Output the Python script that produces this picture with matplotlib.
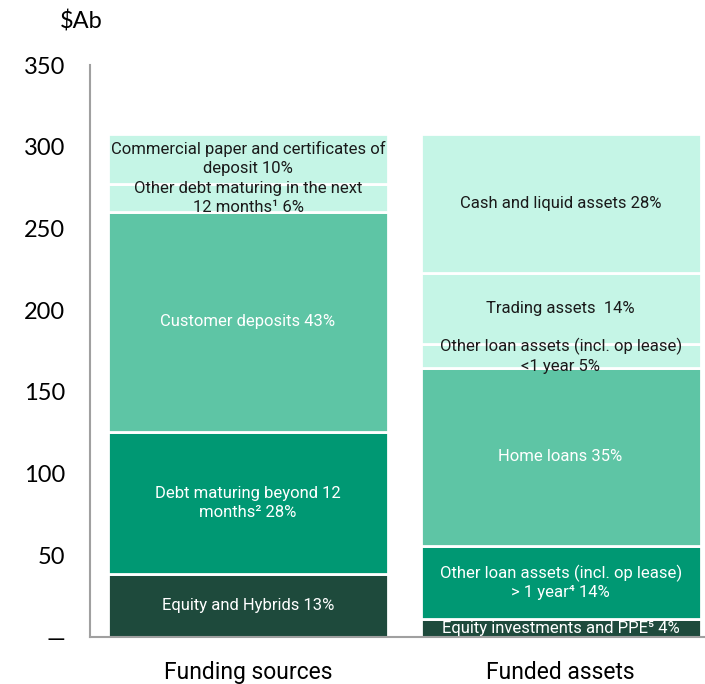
import matplotlib
matplotlib.use("Agg")
import matplotlib.pyplot as plt
import numpy as np

plt.rcParams['font.family'] = ['Roboto', 'DejaVu Sans']

categories = ["Funding sources", "Funded assets"]

funding_labels = ["Equity and Hybrids 13%",
                  "Debt maturing beyond 12\nmonths² 28%",
                  "Customer deposits 43%",
                  "Other debt maturing in the next\n12 months¹ 6%",
                  "Commercial paper and certificates of\ndeposit 10%"]
funding_values = [38.6, 87.0, 134.5, 17.4, 30.6]

asset_labels = ["Equity investments and PPE⁵ 4%",
                "Other loan assets (incl. op lease)\n> 1 year⁴ 14%",
                "Home loans 35%",
                "Other loan assets (incl. op lease)\n<1 year 5%",
                "Trading assets  14%",
                "Cash and liquid assets 28%"]
asset_values = [11.0, 44.7, 109.0, 14.7, 43.5, 85.1]

funding_colors = ["#1e4a3c", "#009873", "#5ec5a5", "#c5f5e6", "#c5f5e6"]
asset_colors = ["#1e4a3c", "#009873", "#5ec5a5", "#c5f5e6", "#c5f5e6", "#c5f5e6"]
funding_text = ["white", "white", "white", "#1a1a1a", "#1a1a1a"]
asset_text = ["white", "white", "white", "#1a1a1a", "#1a1a1a", "#1a1a1a"]

yticks = [0, 50, 100, 150, 200, 250, 300, 350]
ytick_labels = ["—", "50", "100", "150", "200", "250", "300", "350"]

fig = plt.figure(figsize=(7.05, 6.84), dpi=100)
ax = fig.add_axes([0.1277, 0.0687, 0.8723, 0.836])

width = 0.896
for xi, vals, cols, tcols, labs in [(0, funding_values, funding_colors, funding_text, funding_labels),
                                     (1, asset_values, asset_colors, asset_text, asset_labels)]:
    bottom = 0
    for v, c, tc, lab in zip(vals, cols, tcols, labs):
        ax.bar(xi, v, width=width, bottom=bottom, color=c, edgecolor="white", linewidth=2)
        ax.text(xi, bottom + v / 2, lab, ha="center", va="center", color=tc,
                fontsize=12, linespacing=1.3)
        bottom += v

ax.set_xlim(-0.5056, 1.462)
ax.set_ylim(0, 350)
ax.set_xticks([0, 1])
ax.set_xticklabels(categories, fontsize=16.5)
ax.set_yticks(yticks)
ax.set_yticklabels(ytick_labels, fontsize=17, family=['Lato', 'DejaVu Sans'])
ax.tick_params(axis="x", length=0, pad=17)
ax.tick_params(axis="y", length=0, pad=18)
ax.spines["top"].set_visible(False)
ax.spines["right"].set_visible(False)
ax.spines["left"].set_color("#a0a0a0")
ax.spines["bottom"].set_color("#a0a0a0")
ax.spines["left"].set_linewidth(1.5)
ax.spines["bottom"].set_linewidth(1.5)

fig.text(0.085, 0.968, "$Ab", fontsize=17, ha="left", va="center", family=['Lato', 'DejaVu Sans'])

fig.savefig("out.png", dpi=100)
